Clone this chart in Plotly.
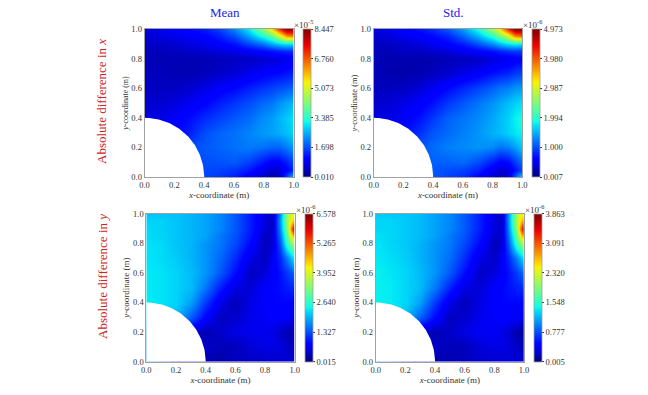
import numpy as np
import plotly.graph_objects as go

WIDTH = 648
HEIGHT = 395
M_L, M_R, M_T, M_B = 130, 90, 25, 25

# sampling of the fields
grid_x = [0, 0.1, 0.2, 0.3, 0.4, 0.5, 0.6, 0.7, 0.8, 0.85, 0.9, 0.95, 1.0]
grid_y = [0, 0.05, 0.1, 0.2, 0.3, 0.4, 0.5, 0.6, 0.7, 0.8, 0.85, 0.9, 0.95, 1.0]
hole_radius = 0.4

# rows go from y=0 up to y=1, cells inside the hole hold the nearest visible value
mean_x = [
    [1.6, 1.6, 1.6, 1.6, 1.6, 1.5, 1.3, 0.9, 0.55, 0.4, 0.6, 1.7, 2.7],
    [1.6, 1.6, 1.6, 1.6, 1.65, 1.6, 1.5, 1.25, 0.8, 0.55, 0.6, 1.0, 1.4],
    [1.6, 1.6, 1.6, 1.6, 1.7, 1.75, 1.8, 1.6, 1.2, 1.0, 1.0, 1.3, 1.65],
    [1.6, 1.6, 1.6, 1.7, 1.8, 1.9, 2.0, 2.1, 2.0, 1.9, 1.9, 2.1, 2.35],
    [1.0, 1.0, 1.1, 1.3, 1.7, 1.9, 2.0, 2.15, 2.35, 2.4, 2.5, 2.65, 2.85],
    [0.7, 0.75, 0.9, 1.15, 1.4, 1.6, 1.8, 1.95, 2.25, 2.35, 2.55, 2.75, 2.95],
    [0.6, 0.6, 0.7, 0.85, 1.05, 1.3, 1.5, 1.7, 1.95, 2.05, 2.25, 2.45, 2.6],
    [0.5, 0.5, 0.5, 0.6, 0.75, 0.95, 1.1, 1.3, 1.5, 1.6, 1.7, 1.8, 1.9],
    [0.5, 0.45, 0.4, 0.4, 0.45, 0.55, 0.65, 0.8, 1.0, 1.05, 1.1, 1.2, 1.3],
    [0.45, 0.4, 0.4, 0.4, 0.4, 0.45, 0.5, 0.5, 0.6, 0.65, 0.7, 0.8, 0.9],
    [0.45, 0.45, 0.5, 0.55, 0.6, 0.7, 0.8, 0.9, 1.1, 1.2, 1.3, 1.4, 1.4],
    [0.5, 0.55, 0.6, 0.7, 0.8, 1.0, 1.2, 1.6, 2.0, 2.4, 2.7, 2.9, 2.8],
    [0.6, 0.7, 0.8, 0.9, 1.0, 1.3, 1.7, 2.4, 3.3, 3.9, 4.8, 6.2, 6.4],
    [0.7, 0.8, 1.0, 1.1, 1.3, 1.6, 2.2, 3.0, 4.4, 5.5, 7.0, 8.3, 8.2],
]
std_x = [
    [1.0, 1.0, 1.0, 1.0, 1.05, 0.95, 0.85, 0.6, 0.35, 0.28, 0.4, 1.1, 1.8],
    [1.0, 1.0, 1.0, 1.0, 1.05, 1.0, 0.95, 0.8, 0.5, 0.36, 0.4, 0.7, 1.0],
    [1.0, 1.0, 1.0, 1.0, 1.1, 1.1, 1.15, 1.0, 0.75, 0.6, 0.65, 0.9, 1.2],
    [1.0, 1.0, 1.0, 1.05, 1.15, 1.25, 1.3, 1.35, 1.3, 1.2, 1.25, 1.4, 1.65],
    [0.6, 0.65, 0.7, 0.85, 1.05, 1.15, 1.25, 1.35, 1.5, 1.55, 1.65, 1.75, 1.85],
    [0.4, 0.45, 0.55, 0.7, 0.9, 1.1, 1.2, 1.3, 1.45, 1.55, 1.65, 1.8, 1.9],
    [0.35, 0.38, 0.45, 0.55, 0.7, 0.9, 1.05, 1.2, 1.35, 1.45, 1.55, 1.65, 1.75],
    [0.28, 0.28, 0.3, 0.38, 0.5, 0.65, 0.8, 0.95, 1.1, 1.2, 1.25, 1.35, 1.4],
    [0.25, 0.22, 0.2, 0.22, 0.27, 0.35, 0.45, 0.55, 0.7, 0.75, 0.8, 0.9, 0.95],
    [0.25, 0.22, 0.22, 0.22, 0.22, 0.25, 0.28, 0.3, 0.4, 0.45, 0.5, 0.55, 0.6],
    [0.25, 0.25, 0.3, 0.3, 0.35, 0.4, 0.5, 0.6, 0.7, 0.8, 0.85, 0.9, 0.9],
    [0.3, 0.3, 0.35, 0.4, 0.5, 0.6, 0.75, 1.0, 1.3, 1.5, 1.7, 1.8, 1.7],
    [0.35, 0.4, 0.5, 0.55, 0.65, 0.8, 1.1, 1.5, 2.0, 2.4, 2.9, 3.7, 3.9],
    [0.4, 0.5, 0.6, 0.7, 0.85, 1.05, 1.4, 1.9, 2.7, 3.3, 4.2, 4.9, 4.9],
]
mean_y = [
    [1.8, 1.5, 0.95, 0.5, 0.3, 0.3, 0.35, 0.4, 0.45, 0.5, 0.5, 0.5, 0.6],
    [1.8, 1.5, 0.95, 0.5, 0.35, 0.3, 0.4, 0.45, 0.5, 0.5, 0.5, 0.45, 0.45],
    [1.8, 1.5, 0.95, 0.5, 0.45, 0.35, 0.35, 0.5, 0.6, 0.6, 0.55, 0.45, 0.35],
    [1.8, 1.5, 0.95, 0.5, 0.3, 0.45, 0.6, 0.65, 0.65, 0.6, 0.45, 0.3, 0.3],
    [2.2, 2.15, 2.0, 1.4, 0.8, 0.4, 0.45, 0.65, 0.7, 0.75, 0.75, 0.7, 0.6],
    [2.35, 2.3, 2.2, 1.85, 1.2, 0.6, 0.35, 0.6, 0.75, 0.8, 0.85, 0.85, 0.8],
    [2.35, 2.3, 2.2, 2.05, 1.6, 1.0, 0.55, 0.5, 0.75, 0.85, 0.9, 1.0, 1.1],
    [2.35, 2.3, 2.2, 2.05, 1.8, 1.4, 0.9, 0.4, 0.55, 0.7, 0.95, 1.2, 1.5],
    [2.3, 2.25, 2.15, 2.0, 1.8, 1.5, 1.1, 0.6, 0.4, 0.7, 1.1, 1.7, 2.4],
    [2.3, 2.25, 2.1, 2.0, 1.8, 1.6, 1.3, 0.85, 0.35, 0.5, 1.4, 2.8, 3.6],
    [2.25, 2.2, 2.1, 2.0, 1.9, 1.6, 1.35, 0.95, 0.4, 0.5, 1.6, 3.1, 5.0],
    [2.25, 2.2, 2.1, 2.0, 1.9, 1.7, 1.4, 1.0, 0.5, 0.4, 1.8, 3.4, 6.4],
    [2.2, 2.2, 2.1, 2.0, 1.9, 1.7, 1.4, 1.0, 0.55, 0.4, 1.9, 3.6, 4.7],
    [2.1, 2.1, 2.1, 2.0, 1.9, 1.7, 1.4, 1.0, 0.5, 0.4, 1.8, 3.6, 4.2],
]
std_y = [
    [1.1, 0.9, 0.6, 0.3, 0.2, 0.2, 0.2, 0.25, 0.3, 0.3, 0.3, 0.3, 0.35],
    [1.1, 0.9, 0.6, 0.3, 0.2, 0.18, 0.22, 0.28, 0.3, 0.3, 0.3, 0.28, 0.28],
    [1.1, 0.9, 0.6, 0.3, 0.25, 0.2, 0.2, 0.3, 0.35, 0.35, 0.32, 0.25, 0.2],
    [1.1, 0.9, 0.6, 0.3, 0.18, 0.25, 0.35, 0.4, 0.4, 0.35, 0.28, 0.15, 0.15],
    [1.35, 1.3, 1.2, 0.85, 0.5, 0.22, 0.27, 0.38, 0.42, 0.45, 0.45, 0.42, 0.35],
    [1.4, 1.38, 1.3, 1.1, 0.7, 0.35, 0.2, 0.35, 0.45, 0.48, 0.5, 0.5, 0.48],
    [1.4, 1.38, 1.3, 1.2, 0.95, 0.6, 0.33, 0.3, 0.45, 0.5, 0.55, 0.6, 0.65],
    [1.4, 1.36, 1.3, 1.2, 1.05, 0.82, 0.52, 0.24, 0.32, 0.42, 0.55, 0.72, 0.9],
    [1.38, 1.33, 1.27, 1.17, 1.05, 0.9, 0.65, 0.35, 0.24, 0.42, 0.65, 1.0, 1.4],
    [1.35, 1.3, 1.25, 1.17, 1.05, 0.95, 0.75, 0.5, 0.2, 0.3, 0.85, 1.65, 2.1],
    [1.35, 1.3, 1.25, 1.2, 1.1, 0.95, 0.8, 0.55, 0.25, 0.3, 0.95, 1.85, 3.0],
    [1.3, 1.3, 1.25, 1.2, 1.1, 1.0, 0.82, 0.6, 0.3, 0.28, 1.05, 2.05, 3.8],
    [1.3, 1.3, 1.25, 1.2, 1.1, 1.0, 0.82, 0.6, 0.32, 0.25, 1.1, 2.2, 2.9],
    [1.25, 1.25, 1.25, 1.2, 1.1, 1.0, 0.82, 0.6, 0.3, 0.25, 1.1, 2.15, 2.5],
]

fields = [mean_x, std_x, mean_y, std_y]
cbar_ticks = [
    ["0.010", "1.698", "3.385", "5.073", "6.760", "8.447"],
    ["0.007", "1.000", "1.994", "2.987", "3.980", "4.973"],
    ["0.015", "1.327", "2.640", "3.952", "5.265", "6.578"],
    ["0.005", "0.777", "1.548", "2.320", "3.091", "3.863"],
]
exponents = ["-5", "-6", "-6", "-6"]
ytitle_sizes = [8, 8.5, 9, 9]

# panel boxes in pixels: left, right, top, bottom, colorbar left
panels = [
    (144.5, 293.7, 29, 177, 303.3),
    (373.7, 522.3, 29, 177, 532.3),
    (146.3, 294.7, 213.7, 361.7, 304.7),
    (375.7, 524.0, 213.7, 361.7, 534.0),
]

jet = [[0, "#00007f"], [0.11, "#0000ff"], [0.125, "#0000ff"], [0.35, "#00e5f8"],
       [0.375, "#14ffe2"], [0.64, "#f8f500"], [0.66, "#ffde00"], [0.89, "#ee0000"], [1, "#7f0000"]]

SERIF = "Liberation Serif"
INK = "#333333"
SPINE = "#a0a0a0"


# pixel position on the page to paper fraction
def fx(px):
    return (px - M_L) / (WIDTH - M_L - M_R)


def fy(py):
    return 1 - (py - M_T) / (HEIGHT - M_T - M_B)


fig = go.Figure()
layout_axes = {}
annotations = []


def note(text, px, py, size, color=INK, angle=0):
    annotations.append(dict(text=text, x=fx(px), y=fy(py), xref="paper", yref="paper",
                            showarrow=False, textangle=angle, xanchor="center", yanchor="middle",
                            font=dict(family=SERIF, size=size, color=color)))


for i, (left, right, top, bottom, cbar_left) in enumerate(panels):
    suffix = "" if i == 0 else str(i + 1)
    ticks = cbar_ticks[i]
    fig.add_trace(go.Heatmap(
        x=grid_x, y=grid_y, z=fields[i], zsmooth="best",
        zmin=float(ticks[0]), zmax=float(ticks[-1]), colorscale=jet,
        xaxis="x" + suffix, yaxis="y" + suffix,
        colorbar=dict(
            x=fx(cbar_left), xanchor="left", xpad=0, ypad=0,
            y=fy(bottom), yanchor="bottom", len=fy(top) - fy(bottom), lenmode="fraction",
            thickness=8.4, thicknessmode="pixels",
            tickvals=[float(t) for t in ticks], ticktext=ticks,
            ticks="outside", ticklen=2, tickcolor=INK, tickwidth=0.6,
            outlinecolor=SPINE, outlinewidth=0.8,
            tickfont=dict(family=SERIF, size=8.5, color=INK),
        ),
    ))

    # the hole in the domain
    angles = np.linspace(0, np.pi / 2, 60)
    fig.add_trace(go.Scatter(
        x=[0] + list(hole_radius * np.cos(angles)) + [0],
        y=[0] + list(hole_radius * np.sin(angles)) + [0],
        mode="lines", fill="toself", fillcolor="white", line=dict(color="white", width=0),
        hoverinfo="skip", showlegend=False, xaxis="x" + suffix, yaxis="y" + suffix,
    ))

    axis_style = dict(
        range=[0, 1], dtick=0.2, tickformat=".1f", ticks="", showline=True, linecolor=SPINE, linewidth=0.8,
        mirror=True, showgrid=False, zeroline=False, automargin=True,
        tickfont=dict(family=SERIF, size=8.5, color=INK),
    )
    layout_axes["xaxis" + suffix] = dict(
        axis_style, domain=[fx(left), fx(right)], anchor="y" + suffix,
        title=dict(text="<i>x</i>-coordinate (m)", standoff=1, font=dict(family=SERIF, size=9, color=INK)),
    )
    layout_axes["yaxis" + suffix] = dict(
        axis_style, domain=[fy(bottom), fy(top)], anchor="x" + suffix,
        title=dict(text="<i>y</i>-coordinate (m)", standoff=1, font=dict(family=SERIF, size=ytitle_sizes[i], color=INK)),
    )
    note("×10<sup>" + exponents[i] + "</sup>", cbar_left + 0.5, top - 5, 9)

note("Mean", 225, 13, 13, "#2222ee")
note("Std.", 453, 13, 13, "#2222ee")
note("Absolute difference in <i>x</i>", 102, 102, 13, "#cc2222", -90)
note("Absolute difference in <i>y</i>", 102, 277, 13, "#cc2222", -90)

fig.update_layout(
    width=WIDTH, height=HEIGHT, margin=dict(l=M_L, r=M_R, t=M_T, b=M_B, autoexpand=False),
    paper_bgcolor="white", plot_bgcolor="white", showlegend=False,
    annotations=annotations, **layout_axes,
)

fig.write_html("out.html", config={"displayModeBar": False}, post_script="document.body.style.margin='0';")
